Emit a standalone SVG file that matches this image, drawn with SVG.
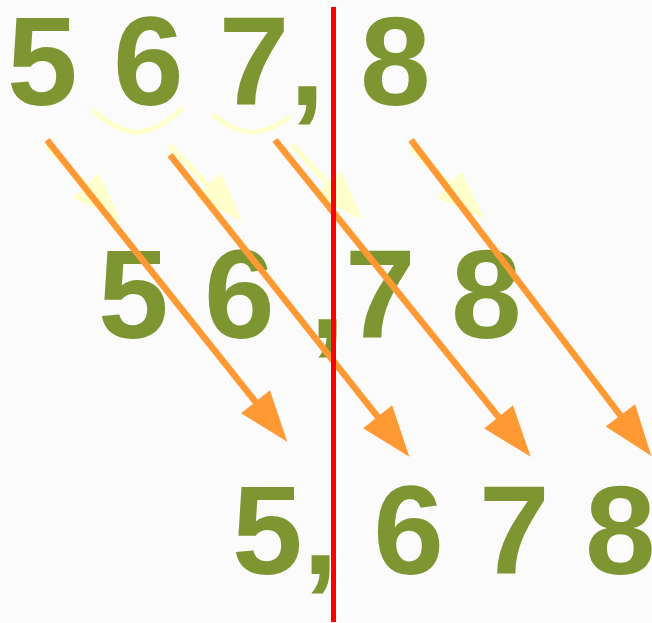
<svg xmlns="http://www.w3.org/2000/svg" width="652" height="623" viewBox="0 0 652 623">
  <defs>
    <style>
      .num { font-family: "Liberation Sans", Arial, sans-serif; font-weight: bold; font-size: 127px; fill: #7E9632; white-space: pre; }
      .ora { stroke: #FF9933; stroke-width: 6.5; fill: none; marker-end: url(#oh); }
      .yel { stroke: #FFFFCC; stroke-width: 6; fill: none; marker-end: url(#yh); }
      .arc { stroke: #FFFFCC; stroke-width: 5; fill: none; }
    </style>
    <marker id="oh" markerUnits="userSpaceOnUse" markerWidth="60" markerHeight="40" viewBox="0 -20 52 40" refX="31" refY="0" orient="auto" overflow="visible">
      <path d="M0,-18.5 L51,0 L0,18.5 Z" fill="#FF9933"/>
    </marker>
    <marker id="yh" markerUnits="userSpaceOnUse" markerWidth="60" markerHeight="40" viewBox="0 -20 52 40" refX="31" refY="0" orient="auto" overflow="visible">
      <path d="M0,-18 L51,0 L0,18 Z" fill="#FFFFCC"/>
    </marker>
  </defs>
  <rect x="0" y="0" width="652" height="623" fill="#FBFBFB"/>

  <g id="row-top">
    <text class="num" x="7" y="104.5" xml:space="preserve">5 6 7, 8</text>
  </g>
  <g id="row-middle">
    <text class="num" x="98" y="337.5" xml:space="preserve">5 6 ,7 8</text>
  </g>
  <g id="row-bottom">
    <text class="num" x="232" y="573.5" xml:space="preserve">5, 6 7 8</text>
  </g>

  <g id="hints">
    <path class="arc" d="M92,110 Q115,130 137,132.5 Q160,130 183,108"/>
    <path class="arc" d="M213,115 Q232,131 252,132.5 Q272,131 290,116"/>
    <line class="yel" x1="46" y1="145" x2="107.5" y2="207.5"/>
    <line class="yel" x1="169" y1="145" x2="229" y2="207.5"/>
    <line class="yel" x1="292" y1="145" x2="349" y2="206"/>
    <line class="yel" x1="410" y1="147" x2="471" y2="206"/>
  </g>

  <g id="connectors">
    <line class="ora" x1="47" y1="140" x2="274.8" y2="426.1"/>
    <line class="ora" x1="170" y1="155" x2="396.9" y2="441"/>
    <line class="ora" x1="275" y1="140" x2="518.1" y2="441.1"/>
    <line class="ora" x1="411" y1="140" x2="639.2" y2="440.1"/>
  </g>

  <g id="divider">
    <line x1="333.5" y1="7" x2="333.5" y2="622" stroke="#FF0000" stroke-width="5"/>
  </g>
</svg>
